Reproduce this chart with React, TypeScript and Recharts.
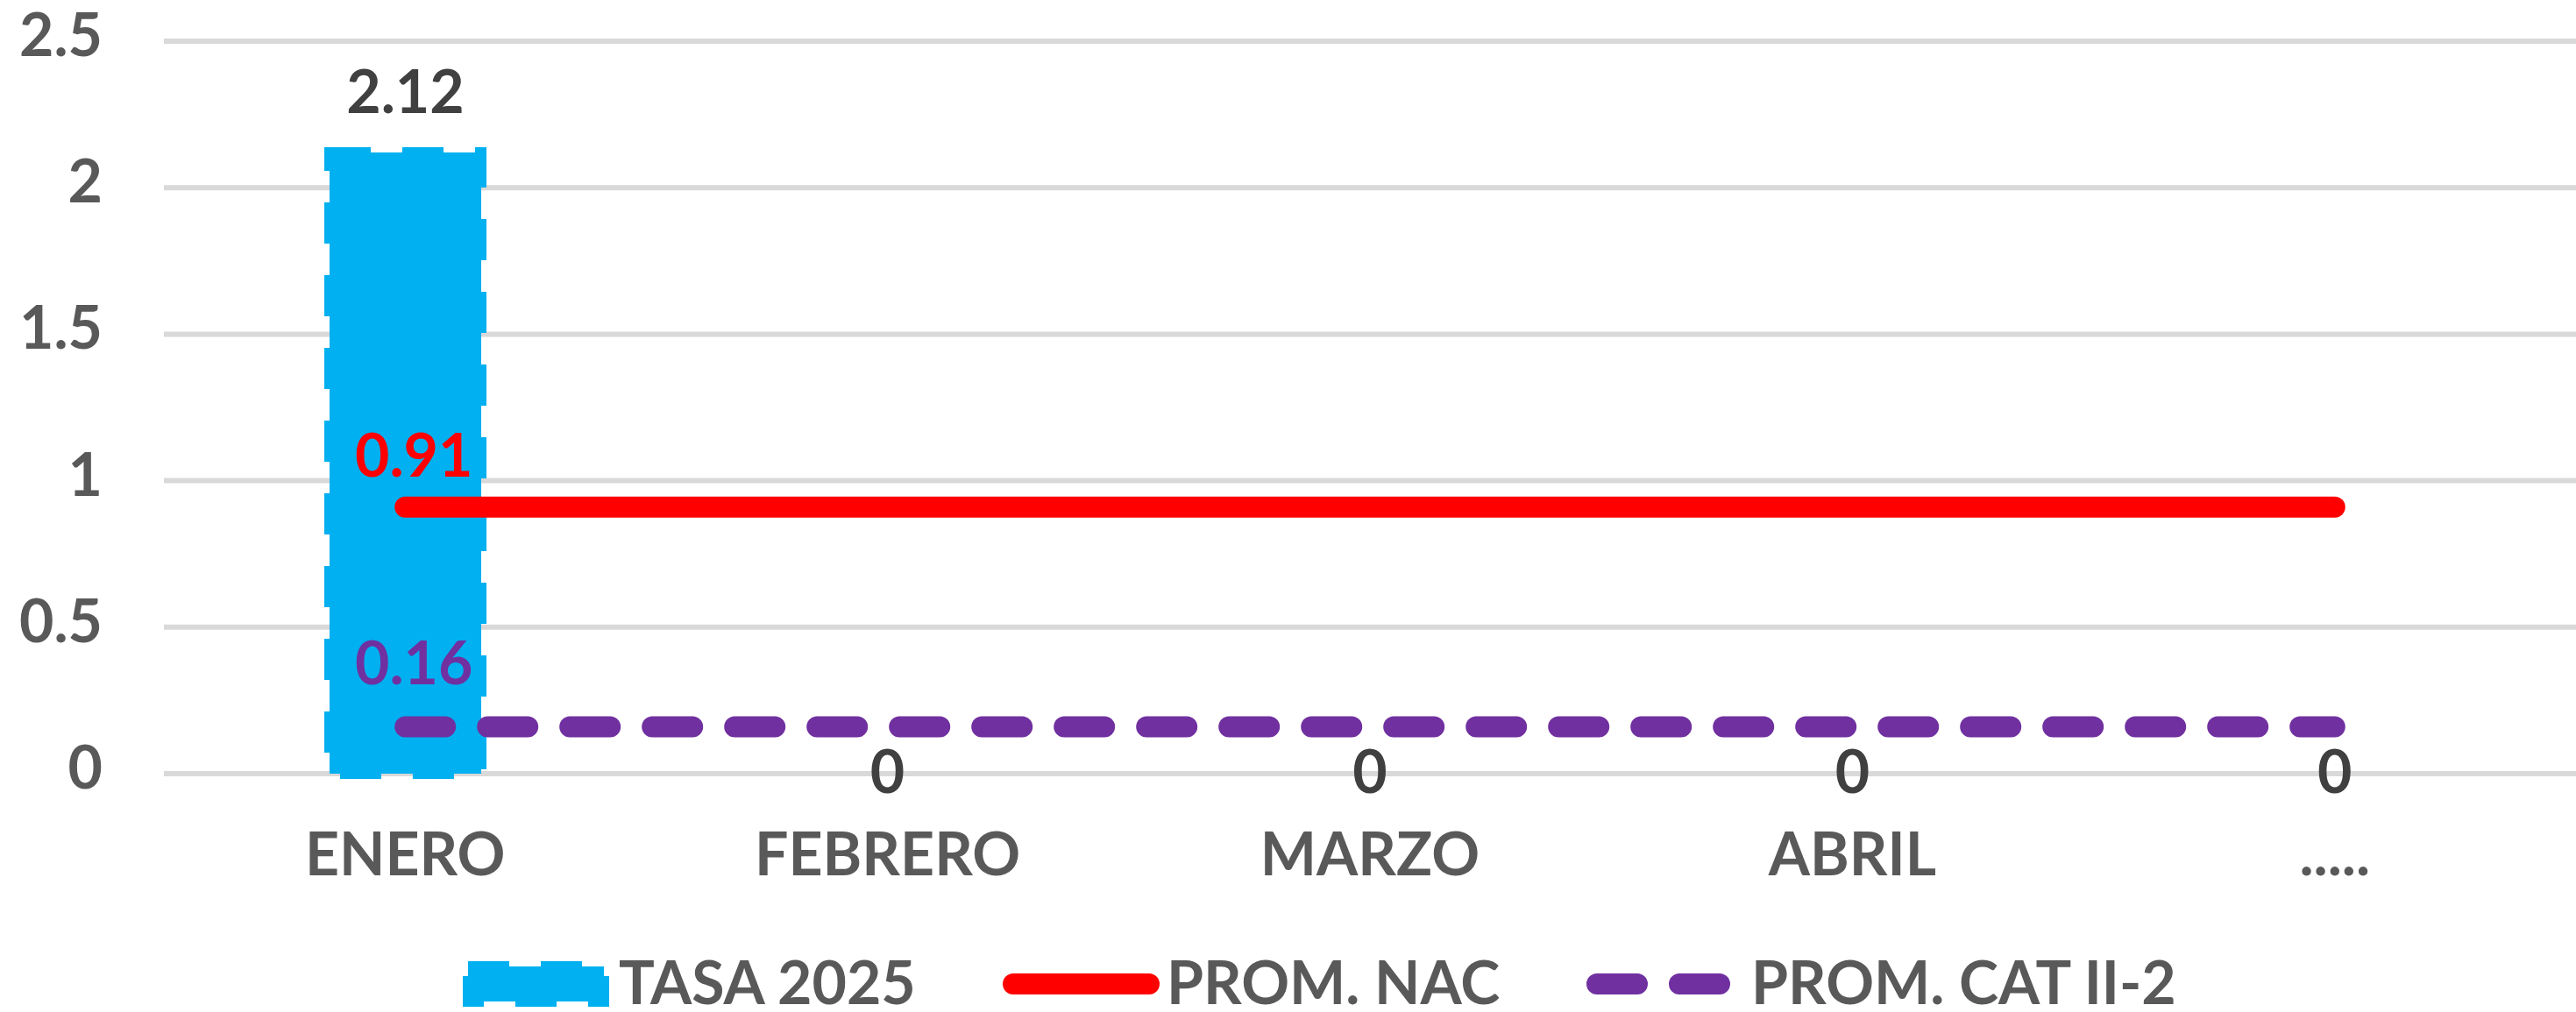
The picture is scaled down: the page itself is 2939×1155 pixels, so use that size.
import { ComposedChart, Bar, Line, XAxis, YAxis, CartesianGrid, LabelList } from 'recharts'

const categories = ['ENERO', 'FEBRERO', 'MARZO', 'ABRIL', '.....']
const tasa2025 = [2.12, 0, 0, 0, 0]
const promNac = [0.91, 0.91, 0.91, 0.91, 0.91]
const promCat = [0.16, 0.16, 0.16, 0.16, 0.16]
const yTicks = [0, 0.5, 1, 1.5, 2, 2.5]
const seriesNames = ['TASA 2025', 'PROM. NAC', 'PROM. CAT II-2']

const FONT = 'Lato, "Open Sans", sans-serif'
const BLUE = '#00B0F0'
const RED = '#FF0000'
const PURPLE = '#7030A0'

const data = categories.map((c, i) => ({
  mes: c,
  tasa: tasa2025[i],
  nac: promNac[i],
  cat: promCat[i],
}))

const YTick = ({ x, y, payload }: any) => (
  <text x={x - 70} y={y} dy={17} textAnchor="end" fill="#595959" fontFamily={FONT} fontWeight={700} fontSize={68}>
    {payload.value}
  </text>
)

const XTick = ({ x, y, payload }: any) => (
  <text x={x} y={y} dy={116} textAnchor="middle" fill="#595959" fontFamily={FONT} fontWeight={700} fontSize={68}>
    {payload.value}
  </text>
)

const BarLabel = (props: any) => {
  const { x, y, width, value } = props
  if (!(value > 0)) return null
  return (
    <text x={x + width / 2} y={y - 45} textAnchor="middle" fill="#404040" fontFamily={FONT} fontWeight={700} fontSize={68}>
      {value}
    </text>
  )
}

// zero-height bars get no label from the Bar, so an invisible line carries them
const ZeroLabel = (props: any) => {
  const { x, y, value } = props
  if (value !== 0) return null
  return (
    <text x={x} y={y + 22} textAnchor="middle" fill="#404040" fontFamily={FONT} fontWeight={700} fontSize={68}>
      {value}
    </text>
  )
}

// only the first point of each average line carries its value
const lineLabel = (color: string, offset: number) => (props: any) => {
  const { x, y, value, index } = props
  if (index !== 0) return null
  return (
    <text x={x + 10} y={y - offset} textAnchor="middle" fill={color} fontFamily={FONT} fontWeight={700} fontSize={68}>
      {value}
    </text>
  )
}

function LegendRow() {
  const textStyle = {
    position: 'absolute' as const,
    top: 1080,
    fontFamily: FONT,
    fontWeight: 700,
    fontSize: 68,
    color: '#595959',
    lineHeight: '80px',
    whiteSpace: 'nowrap' as const,
  }
  return (
    <>
      <svg style={{ position: 'absolute', left: 522, top: 1091 }} width={180} height={64}>
        <rect x={12} y={12} width={155} height={40} fill={BLUE} stroke={BLUE} strokeWidth={12} strokeDasharray="47 36" />
      </svg>
      <span style={{ ...textStyle, left: 706 }}>{seriesNames[0]}</span>

      <svg style={{ position: 'absolute', left: 1130, top: 1100 }} width={210} height={46}>
        <line x1={26} y1={23} x2={181} y2={23} stroke={RED} strokeWidth={24} strokeLinecap="round" />
      </svg>
      <span style={{ ...textStyle, left: 1331 }}>{seriesNames[1]}</span>

      <svg style={{ position: 'absolute', left: 1800, top: 1100 }} width={190} height={46}>
        <line x1={22} y1={23} x2={164} y2={23} stroke={PURPLE} strokeWidth={24} strokeLinecap="round" strokeDasharray="46 48" />
      </svg>
      <span style={{ ...textStyle, left: 1998 }}>{seriesNames[2]}</span>
    </>
  )
}

export default function App() {
  return (
    <div style={{ position: 'absolute', left: 0, top: 0, width: 2939, height: 1155, background: '#fff' }}>
      <ComposedChart width={2939} height={1155} data={data} margin={{ top: 47, right: 0, bottom: 0, left: 0 }}>
        <CartesianGrid vertical={false} stroke="#D9D9D9" strokeWidth={6} />
        <XAxis
          dataKey="mes"
          axisLine={false}
          tickLine={false}
          tickSize={0}
          tickMargin={0}
          height={272}
          tick={<XTick />}
          interval={0}
        />
        <YAxis
          domain={[0, 2.5]}
          ticks={yTicks}
          axisLine={false}
          tickLine={false}
          tickSize={0}
          tickMargin={0}
          width={187}
          tick={<YTick />}
        />
        <Bar dataKey="tasa" fill={BLUE} stroke={BLUE} strokeWidth={12} strokeDasharray="47 36" barSize={173} isAnimationActive={false}>
          <LabelList dataKey="tasa" content={BarLabel} />
        </Bar>
        <Line
          dataKey="tasa"
          stroke="none"
          dot={false}
          activeDot={false}
          legendType="none"
          isAnimationActive={false}
        >
          <LabelList dataKey="tasa" content={ZeroLabel} />
        </Line>
        <Line
          dataKey="nac"
          stroke={RED}
          strokeWidth={24}
          strokeLinecap="round"
          dot={false}
          activeDot={false}
          isAnimationActive={false}
        >
          <LabelList dataKey="nac" content={lineLabel(RED, 35)} />
        </Line>
        <Line
          dataKey="cat"
          stroke={PURPLE}
          strokeWidth={24}
          strokeLinecap="round"
          strokeDasharray="46 48"
          dot={false}
          activeDot={false}
          isAnimationActive={false}
        >
          <LabelList dataKey="cat" content={lineLabel(PURPLE, 48)} />
        </Line>
      </ComposedChart>
      <LegendRow />
    </div>
  )
}
